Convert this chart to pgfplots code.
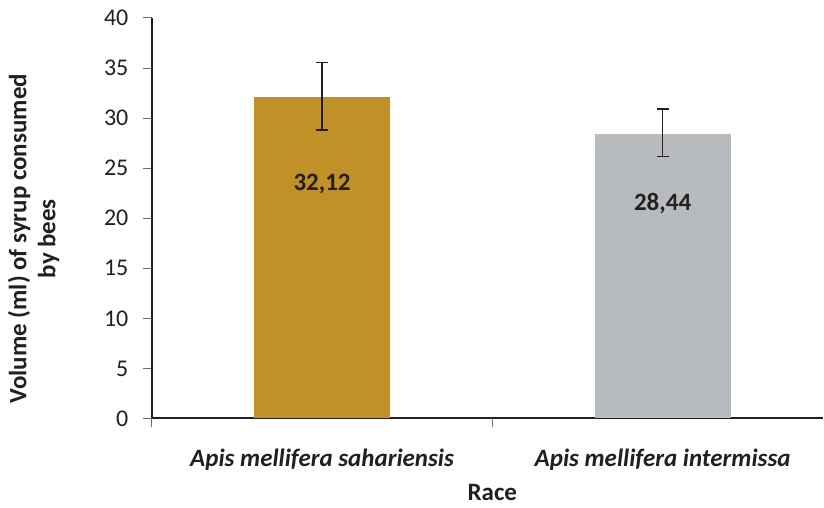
\documentclass[border=0pt]{standalone}
\usepackage{pgfplots}
\pgfplotsset{compat=1.18}
\usepackage{fontspec}
\setmainfont{Carlito}
\definecolor{gold}{RGB}{192,145,38}
\definecolor{grayb}{RGB}{184,187,189}
\definecolor{dk}{RGB}{35,31,32}
\definecolor{tk}{RGB}{110,110,110}
\begin{document}
\begin{tikzpicture}
\path (-152pt,-89pt) rectangle (672pt,419pt);
\begin{axis}[
  scale only axis, width=672pt, height=401pt,
  xmin=-0.5, xmax=1.471, ymin=0, ymax=40,
  axis lines=left,
  axis line style={-, dk, line width=2pt},
  ytick={0,5,...,40},
  tick align=outside,
  major tick length=9pt,
  tick style={tk, line width=1pt},
  /pgf/number format/assume math mode=true,
  yticklabel style={font=\fontsize{24}{28}\selectfont, text=dk, xshift=-11pt},
  xtick={0,1},
  xticklabels={Apis mellifera sahariensis, Apis mellifera intermissa},
  x tick style={draw=none},
  xticklabel style={font=\bfseries\itshape\fontsize{25}{29}\selectfont, text=dk, anchor=center, yshift=-32pt},
  extra x ticks={-0.5,0.5},
  extra x tick labels={},
  extra x tick style={x tick style={draw=tk, line width=1pt}},
  ylabel={Volume (ml) of syrup consumed\\by bees},
  ylabel style={at={(axis description cs:-0.1763,0.449)}, anchor=center, align=center, inner sep=0pt, font=\bfseries\fontsize{25}{29}\selectfont, text=dk},
  xlabel={Race},
  xlabel style={at={(axis cs:0.5,0)}, anchor=center, inner sep=0pt, yshift=-74pt, font=\bfseries\fontsize{25}{29}\selectfont, text=dk},
  clip=false,
]
\addplot[ybar, /pgf/bar shift=0pt, bar width=136pt, fill=gold, draw=none,
  error bars/.cd, y dir=both, y explicit,
  error bar style={dk, line width=1.6pt},
  error mark options={rotate=90, mark size=6pt, line width=1.6pt, dk}]
  coordinates {(0,32.12) += (0,3.45) -= (0,3.29)};
\addplot[ybar, /pgf/bar shift=0pt, bar width=136pt, fill=grayb, draw=none,
  error bars/.cd, y dir=both, y explicit,
  error bar style={dk, line width=1.6pt},
  error mark options={rotate=90, mark size=6pt, line width=1.6pt, dk}]
  coordinates {(1,28.44) += (0,2.45) -= (0,2.28)};
\node[font=\bfseries\fontsize{25}{29}\selectfont, text=dk] at (axis cs:0,23.45) {32,12};
\node[font=\bfseries\fontsize{25}{29}\selectfont, text=dk] at (axis cs:1,21.5) {28,44};
\end{axis}
\end{tikzpicture}
\end{document}
